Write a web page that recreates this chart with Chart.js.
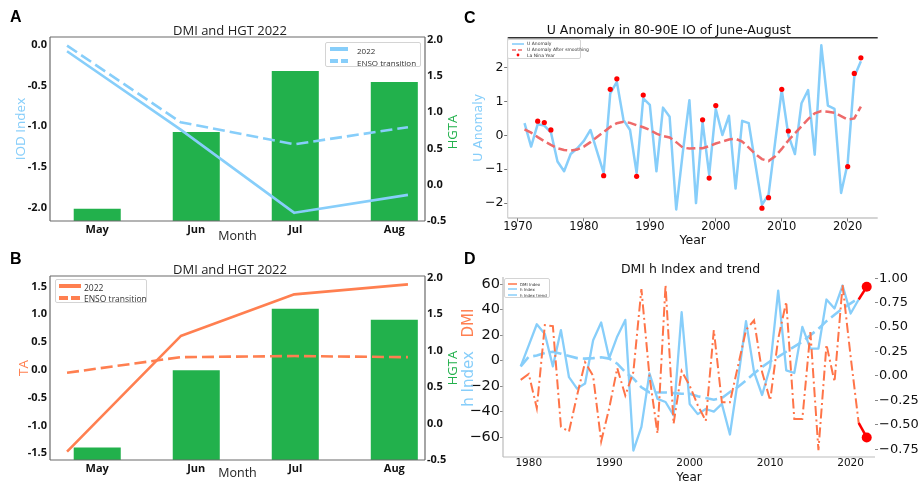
<!DOCTYPE html>
<html><head><meta charset="utf-8">
<script src="https://cdn.jsdelivr.net/npm/chart.js@4.4.1/dist/chart.umd.min.js"></script>
<style>
html,body{margin:0;padding:0;background:#fff;}
#wrap{position:relative;width:921px;height:486px;overflow:hidden;background:#fff;}
canvas{position:absolute;}
.rot{position:absolute;white-space:nowrap;line-height:1;transform:translate(-50%,-50%) rotate(-90deg);}
.letter{position:absolute;font:bold 16px "Liberation Sans",Arial,sans-serif;color:#000;line-height:16px;}
.leg{position:absolute;background:rgba(255,255,255,0.85);border:1px solid #d4d4d4;border-radius:2px;box-sizing:border-box;}
.leg .t{position:absolute;white-space:nowrap;line-height:1;color:#333;}
.leg svg{position:absolute;overflow:visible;}
</style></head><body><div id="wrap">
<canvas id="cA" width="460" height="245" style="left:0;top:0;width:460px;height:245px"></canvas>
<canvas id="cB" width="460" height="246" style="left:0;top:240px;width:460px;height:246px"></canvas>
<canvas id="cC" width="461" height="250" style="left:460px;top:0;width:461px;height:250px"></canvas>
<canvas id="cD" width="461" height="246" style="left:460px;top:240px;width:461px;height:246px"></canvas>

<div class="letter" style="left:10px;top:8.6px">A</div>
<div class="letter" style="left:10px;top:250.6px">B</div>
<div class="letter" style="left:464px;top:9.6px">C</div>
<div class="letter" style="left:464px;top:251px">D</div>

<div class="rot" style="left:452px;top:132px;font:13px 'Open Sans';color:#22B14C">HGTA</div>
<div class="rot" style="left:452px;top:368px;font:13px 'Open Sans';color:#22B14C">HGTA</div>
<div class="rot" style="left:468px;top:378.5px;font:15px 'DejaVu Sans';color:#87CEFA">h Index</div>
<div class="rot" style="left:468px;top:322.5px;font:15px 'DejaVu Sans';color:#FF7F50">DMI</div>

<!-- legend A -->
<div class="leg" style="left:325px;top:42px;width:96px;height:25px">
  <svg style="left:4px;top:6px" width="18" height="1"><line x1="0" y1="0" x2="18" y2="0" stroke="#87CEFA" stroke-width="4"/></svg>
  <div class="t" style="left:31px;top:2px;font:8px 'Open Sans'">2022</div>
  <svg style="left:4px;top:17.5px" width="18" height="1"><line x1="0" y1="0" x2="18" y2="0" stroke="#87CEFA" stroke-width="4" stroke-dasharray="8,3"/></svg>
  <div class="t" style="left:31px;top:13.5px;font:8px 'Open Sans'">ENSO transition</div>
</div>
<!-- legend B -->
<div class="leg" style="left:55px;top:279px;width:92px;height:24px">
  <svg style="left:3px;top:6px" width="22" height="1"><line x1="0" y1="0" x2="22" y2="0" stroke="#FF7F50" stroke-width="4"/></svg>
  <div class="t" style="left:28px;top:1.5px;font:8.5px 'Open Sans'">2022</div>
  <svg style="left:3px;top:17.5px" width="22" height="1"><line x1="0" y1="0" x2="22" y2="0" stroke="#FF7F50" stroke-width="4" stroke-dasharray="9,3"/></svg>
  <div class="t" style="left:28px;top:13px;font:8.5px 'Open Sans'">ENSO transition</div>
</div>
<!-- legend C -->
<div class="leg" style="left:507px;top:39px;width:74px;height:19.5px">
  <svg style="left:4px;top:3.5px" width="12" height="1"><line x1="0" y1="0" x2="12" y2="0" stroke="#87CEFA" stroke-width="1.6"/></svg>
  <div class="t" style="left:19px;top:1.3px;font:4.5px 'DejaVu Sans'">U Anomaly</div>
  <svg style="left:4px;top:9.5px" width="12" height="1"><line x1="0" y1="0" x2="12" y2="0" stroke="#EE6A6A" stroke-width="1.6" stroke-dasharray="4,2"/></svg>
  <div class="t" style="left:19px;top:7.3px;font:4.5px 'DejaVu Sans'">U Anomaly After smoothing</div>
  <svg style="left:4px;top:15px" width="12" height="1"><circle cx="6" cy="0" r="1.4" fill="#FF0000"/></svg>
  <div class="t" style="left:19px;top:12.8px;font:4.5px 'DejaVu Sans'">La Nina Year</div>
</div>
<!-- legend D -->
<div class="leg" style="left:504px;top:278px;width:46px;height:20px">
  <svg style="left:3px;top:4.5px" width="9" height="1"><line x1="0" y1="0" x2="9" y2="0" stroke="#FF7448" stroke-width="1.5"/></svg>
  <div class="t" style="left:15px;top:2.5px;font:4px 'DejaVu Sans'">DMI Index</div>
  <svg style="left:3px;top:10px" width="9" height="1"><line x1="0" y1="0" x2="9" y2="0" stroke="#87CEFA" stroke-width="1.5"/></svg>
  <div class="t" style="left:15px;top:8px;font:4px 'DejaVu Sans'">h Index</div>
  <svg style="left:3px;top:15.5px" width="9" height="1"><line x1="0" y1="0" x2="9" y2="0" stroke="#87CEFA" stroke-width="1.5"/></svg>
  <div class="t" style="left:15px;top:13.5px;font:4px 'DejaVu Sans'">h Index trend</div>
</div>
</div>
<script>
// ---------- Panels A & B ----------
const months = ['May', 'Jun', 'Jul', 'Aug'];
const hgta = [-0.33, 0.73, 1.57, 1.42];
const iod2022 = [-0.08, -1.04, -2.06, -1.84];
const iodEnso = [-0.01, -0.95, -1.22, -1.01];
const ta2022 = [-1.47, 0.61, 1.36, 1.54];
const taEnso = [-0.05, 0.23, 0.25, 0.23];

// ---------- Panel C ----------
const uYears = [1971,1972,1973,1974,1975,1976,1977,1978,1979,1980,1981,1982,1983,1984,1985,1986,1987,1988,1989,1990,
  1991,1992,1993,1994,1995,1996,1997,1998,1999,2000,2001,2002,2003,2004,2005,2006,2007,2008,2009,2010,
  2011,2012,2013,2014,2015,2016,2017,2018,2019,2020,2021,2022];
const uAnomaly = [0.36,-0.33,0.33,0.29,0.09,-0.77,-1.06,-0.55,-0.38,-0.16,0.16,-0.48,-1.11,1.24,1.58,0.46,0.16,-1.11,1.09,0.90,
  -1.06,0.82,0.55,-2.19,-0.5,1.04,-2.00,0.39,-1.16,0.78,0.01,0.58,-1.57,0.43,0.36,-0.85,-2.05,-1.75,-0.2,1.34,
  0.01,-0.55,0.95,1.34,-0.57,2.66,0.88,0.78,-1.70,-0.82,1.73,2.19];
const uSmooth = [0.18,0.08,-0.05,-0.17,-0.28,-0.38,-0.43,-0.45,-0.42,-0.33,-0.2,-0.05,0.1,0.25,0.36,0.40,0.37,0.30,0.24,0.16,
  0.05,-0.02,-0.06,-0.2,-0.36,-0.39,-0.38,-0.38,-0.32,-0.24,-0.18,-0.12,-0.1,-0.18,-0.36,-0.55,-0.70,-0.76,-0.62,-0.4,
  -0.15,0.06,0.27,0.48,0.65,0.72,0.70,0.67,0.57,0.47,0.50,0.85];
const ninaYears = [1973,1974,1975,1983,1984,1985,1988,1989,1998,1999,2000,2007,2008,2010,2011,2020,2021,2022];
const ninaValues = [0.42,0.38,0.16,-1.19,1.36,1.67,-1.21,1.19,0.46,-1.26,0.88,-2.15,-1.84,1.36,0.13,-0.92,1.83,2.29];

// ---------- Panel D ----------
const dYears = [1979,1980,1981,1982,1983,1984,1985,1986,1987,1988,1989,1990,1991,1992,1993,1994,1995,1996,1997,1998,
  1999,2000,2001,2002,2003,2004,2005,2006,2007,2008,2009,2010,2011,2012,2013,2014,2015,2016,2017,2018,2019,2020,2021];
const hIndex = [-4.5,12,28.6,21,-4.5,24,-13,-22,-18,16,30,2,19,32,-70.6,-52,-10,-30,-32.5,-43,
  38,-34,-42,-38,-40,-34,-58,-15,31,-9,-27,-5,55,-7.6,-9.7,26.5,9.4,9.4,48,41,59,37,48];
const hTrend = [-4.5,3,4,6,7,5.5,3.7,2,1.6,2,2.6,1.6,-2.4,-9,-14,-21,-25,-25,-25,-25.5,
  -26,-26,-28,-29.4,-30.7,-29.4,-24.7,-20.7,-15.5,-10,-5,-0.5,3,7,11,15,20,25,31,36,41,45,49];
const dmiIndex = [-0.04,0.02,-0.33,0.52,0.51,-0.52,-0.57,-0.2,0.14,0.0,-0.67,-0.33,0.08,-0.2,0.04,0.89,0.0,-0.59,0.93,-0.49,
  0.05,-0.1,-0.3,-0.46,0.47,-0.27,-0.27,0.1,0.47,0.57,0.04,-0.25,0.38,0.76,-0.44,-0.44,0.45,-0.76,0.32,-0.06,0.93,0.2,-0.48];
const redYears = [2021, 2022];
const hRed = [48, 58];
const dmiRed = [-0.48, -0.63];

// ---------- helpers ----------
const xy = (xs, ys) => ys.map((v, i) => ({x: xs[i], y: v}));
const idx = ys => ys.map((v, i) => ({x: i, y: v}));
const minus = s => s.replace('-', '\u2212');

const spinePlugin = {
  id: 'spines',
  afterDatasetsDraw(chart, args, o) {
    const {ctx, chartArea: a} = chart;
    ctx.save();
    const seg = (c, w, x1, y1, x2, y2) => {
      if (!c) return;
      ctx.strokeStyle = c; ctx.lineWidth = w;
      ctx.beginPath(); ctx.moveTo(x1, y1); ctx.lineTo(x2, y2); ctx.stroke();
    };
    const w = o.width || 1;
    seg(o.top, o.topWidth || w, a.left, a.top, a.right, a.top);
    seg(o.bottom, w, a.left, a.bottom, a.right, a.bottom);
    seg(o.left, w, a.left, a.top, a.left, a.bottom);
    seg(o.right, w, a.right, a.top, a.right, a.bottom);
    ctx.restore();
  }
};

const base = {
  responsive: false, animation: false, devicePixelRatio: 1,
  layout: {padding: 0},
  events: []
};
const noGrid = {display: false, drawTicks: false, tickLength: 0};

function makeAB(id, c) {
  const tickFont = {family: 'Open Sans', size: 11, weight: 'bold', lineHeight: 1.2};
  return new Chart(document.getElementById(id), {
    type: 'bar',
    data: {datasets: [
      {type: 'line', label: '2022', data: idx(c.solid), xAxisID: 'xl', yAxisID: 'yL',
       borderColor: c.color, borderWidth: 2.6, pointRadius: 0, fill: false, order: 0, borderJoinStyle: 'round'},
      {type: 'line', label: 'ENSO transition', data: idx(c.dashed), xAxisID: 'xl', yAxisID: 'yL',
       borderColor: c.color, borderWidth: 2.6, borderDash: [12, 5], pointRadius: 0, fill: false, order: 0},
      {type: 'bar', label: 'HGTA', data: idx(hgta), xAxisID: 'xb', yAxisID: 'yR', grouped: false,
       backgroundColor: '#22B14C', base: -0.5, barPercentage: 0.475, categoryPercentage: 1, order: 1}
    ]},
    options: Object.assign({}, base, {
      plugins: {
        legend: {display: false}, tooltip: {enabled: false},
        title: {display: true, text: 'DMI and HGT 2022', color: '#222',
                font: {family: 'Open Sans', size: 13, weight: 'normal', lineHeight: 1},
                padding: {top: c.titleTop, bottom: c.titleBottom}},
        spines: {top: '#6a6a6a', bottom: '#6a6a6a', left: '#6a6a6a', right: '#6a6a6a', width: 1.2}
      },
      scales: {
        xb: {type: 'linear', position: 'bottom', min: -0.477, max: 3.31, offset: false,
             grid: noGrid, border: {display: false},
             ticks: {stepSize: 1, includeBounds: false, padding: c.xTickPad, color: '#111', font: tickFont,
                     maxRotation: 0, autoSkip: false, callback: v => months[v] !== undefined ? months[v] : ''},
             title: {display: true, text: 'Month', color: '#222',
                     font: {family: 'Open Sans', size: 12.5, lineHeight: 1}, padding: {top: 0, bottom: c.monthPad}},
             afterFit: s => { s.height = c.xH; }},
        xl: {type: 'linear', display: false, min: -0.15, max: 3.15, offset: false},
        yL: {type: 'linear', position: 'left', min: c.lMin, max: c.lMax,
             grid: noGrid, border: {display: false},
             ticks: {stepSize: 0.5, includeBounds: false, padding: 3, color: '#111', font: tickFont,
                     callback: v => v.toFixed(1)},
             title: {display: true, text: c.leftTitle, color: c.color,
                     font: {family: 'Open Sans', size: 13.5, lineHeight: 1}, padding: {top: c.leftPad, bottom: 0}},
             afterFit: s => { s.width = 50; }},
        yR: {type: 'linear', position: 'right', min: -0.5, max: c.rMax,
             grid: noGrid, border: {display: false},
             ticks: {stepSize: 0.5, includeBounds: false, padding: 2, color: '#111', font: tickFont,
                     callback: v => v.toFixed(1)},
             afterFit: s => { s.width = 35; }}
      }
    }),
    plugins: [spinePlugin]
  });
}

makeAB('cA', {solid: iod2022, dashed: iodEnso, color: '#87CEFA', leftTitle: 'IOD Index',
  titleTop: 25, titleBottom: -1, xH: 24, xTickPad: 2.4, monthPad: 2.75, leftPad: 14,
  lMin: -2.16, lMax: 0.095, rMax: 2.04});
makeAB('cB', {solid: ta2022, dashed: taEnso, color: '#FF7F50', leftTitle: 'TA',
  titleTop: 24.2, titleBottom: -1.2, xH: 26, xTickPad: 2.4, monthPad: 6.4, leftPad: 17.2,
  lMin: -1.62, lMax: 1.69, rMax: 2.02});

// Panel C
new Chart(document.getElementById('cC'), {
  type: 'line',
  data: {datasets: [
    {label: 'U Anomaly', data: xy(uYears, uAnomaly), borderColor: '#87CEFA', borderWidth: 2.5,
     pointRadius: 0, order: 3, borderJoinStyle: 'round'},
    {label: 'U Anomaly After smoothing', data: xy(uYears, uSmooth), borderColor: '#EE6A6A', borderWidth: 2.5,
     borderDash: [9, 4], pointRadius: 0, order: 2},
    {label: 'La Nina Year', data: xy(ninaYears, ninaValues), showLine: false, pointRadius: 2.6,
     pointBackgroundColor: '#FF0000', pointBorderWidth: 0, borderColor: '#FF0000', order: 1}
  ]},
  options: Object.assign({}, base, {
    layout: {padding: {right: 43.3}},
    plugins: {
      legend: {display: false}, tooltip: {enabled: false},
      title: {display: true, text: 'U Anomaly in 80-90E IO of June-August', color: '#111',
              font: {family: 'DejaVu Sans', size: 12.5, weight: 'normal', lineHeight: 1},
              padding: {top: 24.45, bottom: 0.75}},
      spines: {top: '#333', topWidth: 1.6, bottom: '#aaa', left: '#d0d0d0', width: 1.2}
    },
    scales: {
      x: {type: 'linear', min: 1968.45, max: 2024.55,
          grid: {display: true, drawOnChartArea: false, tickLength: 3.5, color: '#777', tickColor: '#777'},
          border: {display: false},
          ticks: {stepSize: 10, includeBounds: false, padding: 0, color: '#111', maxRotation: 0,
                  font: {family: 'DejaVu Sans', size: 11.5, lineHeight: 1}, callback: v => String(v)},
          title: {display: true, text: 'Year', color: '#111',
                  font: {family: 'DejaVu Sans', size: 12.5, lineHeight: 1}, padding: {top: 0, bottom: 3}},
          afterFit: s => { s.height = 32; }},
      y: {type: 'linear', min: -2.44, max: 2.885,
          grid: {display: true, drawOnChartArea: false, tickLength: 3.5, color: '#777', tickColor: '#777'},
          border: {display: false},
          ticks: {stepSize: 1, includeBounds: false, padding: 0.7, color: '#111',
                  font: {family: 'DejaVu Sans', size: 12.5}, callback: v => minus(String(v))},
          title: {display: true, text: 'U Anomaly', color: '#87CEFA',
                  font: {family: 'DejaVu Sans', size: 12.5, lineHeight: 1}, padding: {top: 12, bottom: 0}},
          afterFit: s => { s.width = 47.7; }}
    }
  }),
  plugins: [spinePlugin]
});

// Panel D
new Chart(document.getElementById('cD'), {
  type: 'line',
  data: {datasets: [
    {label: 'DMI Index', data: xy(dYears, dmiIndex), yAxisID: 'yR', borderColor: '#FF7448', borderWidth: 2,
     borderDash: [10, 3.5, 2, 3.5], pointRadius: 0, order: 1},
    {label: 'h Index', data: xy(dYears, hIndex), yAxisID: 'yL', borderColor: '#87CEFA', borderWidth: 2.3,
     pointRadius: 0, order: 3, borderJoinStyle: 'round'},
    {label: 'h Index trend', data: xy(dYears, hTrend), yAxisID: 'yL', borderColor: '#87CEFA', borderWidth: 2.6,
     borderDash: [12, 5], pointRadius: 0, order: 2},
    {label: 'h 2022', data: xy(redYears, hRed), yAxisID: 'yL', borderColor: '#FF0000', borderWidth: 2.5,
     pointRadius: [0, 5], pointBackgroundColor: '#FF0000', pointBorderWidth: 0, order: 0},
    {label: 'DMI 2022', data: xy(redYears, dmiRed), yAxisID: 'yR', borderColor: '#FF0000', borderWidth: 2.5,
     pointRadius: [0, 5], pointBackgroundColor: '#FF0000', pointBorderWidth: 0, order: 0}
  ]},
  options: Object.assign({}, base, {
    plugins: {
      legend: {display: false}, tooltip: {enabled: false},
      title: {display: true, text: 'DMI h Index and trend', color: '#111',
              font: {family: 'DejaVu Sans', size: 12.5, weight: 'normal', lineHeight: 1},
              padding: {top: 23.75, bottom: 0.75}},
      spines: {bottom: '#bbb', left: '#bbb', width: 1.2}
    },
    scales: {
      x: {type: 'linear', min: 1976.8, max: 2023.03,
          grid: noGrid, border: {display: false},
          ticks: {stepSize: 10, includeBounds: false, padding: 1.5, color: '#111', maxRotation: 0,
                  font: {family: 'DejaVu Sans', size: 10.5, lineHeight: 1}, callback: v => String(v)},
          title: {display: true, text: 'Year', color: '#111',
                  font: {family: 'DejaVu Sans', size: 12, lineHeight: 1}, padding: {top: 0, bottom: 1.7}},
          afterFit: s => { s.height = 29; }},
      yL: {type: 'linear', position: 'left', min: -75.7, max: 65.7,
           grid: {display: true, drawOnChartArea: false, tickLength: 3, color: '#888', tickColor: '#888'},
           border: {display: false},
           ticks: {stepSize: 20, includeBounds: false, padding: 0, color: '#111',
                   font: {family: 'DejaVu Sans', size: 14.5}, callback: v => minus(String(v))},
           afterFit: s => { s.width = 43; }},
      yR: {type: 'linear', position: 'right', min: -0.83, max: 1.013,
           grid: {display: true, drawOnChartArea: false, tickLength: 3, color: '#888', tickColor: '#888'},
           border: {display: false},
           ticks: {stepSize: 0.25, includeBounds: false, padding: 1, color: '#111',
                   font: {family: 'DejaVu Sans', size: 13}, callback: v => minus(v.toFixed(2))},
           afterFit: s => { s.width = 46; }}
    }
  }),
  plugins: [spinePlugin]
});
</script>
</body></html>
